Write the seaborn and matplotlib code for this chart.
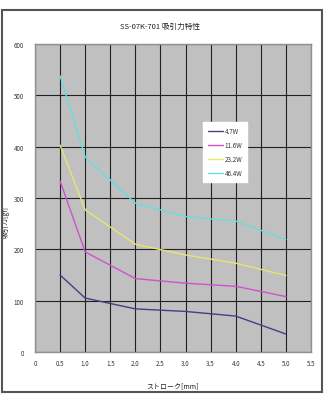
import matplotlib
matplotlib.use("Agg")
import matplotlib.pyplot as plt
import seaborn as sns
import pandas as pd
from matplotlib.patches import Rectangle

stroke = [0.5, 1.0, 2.0, 3.0, 4.0, 5.0]
w4_7 = [150, 105, 84, 79, 70, 35]
w11_6 = [333, 195, 143, 134, 128, 108]
w23_2 = [403, 277, 210, 189, 173, 149]
w46_4 = [538, 380, 290, 264, 255, 219]
series_names = ["4.7W", "11.6W", "23.2W", "46.4W"]
colors = ["#404088", "#d050d0", "#e6e670", "#66dede"]
x_ticks = [0, 0.5, 1.0, 1.5, 2.0, 2.5, 3.0, 3.5, 4.0, 4.5, 5.0, 5.5]
x_tick_labels = ["0", "0.5", "1.0", "1.5", "2.0", "2.5", "3.0", "3.5", "4.0", "4.5", "5.0", "5.5"]
y_ticks = [0, 100, 200, 300, 400, 500, 600]
title = "SS-07K-701 吸引力特性"
xlabel = "ストローク[mm]"
ylabel = "吸引力[gf]"

rows = []
for name, vals in zip(series_names, [w4_7, w11_6, w23_2, w46_4]):
    for x, v in zip(stroke, vals):
        rows.append({"stroke": x, "force": v, "series": name})
df = pd.DataFrame(rows)

sns.set_style("white")
plt.rcParams["font.family"] = ["Noto Sans CJK JP", "DejaVu Sans"]

fig = plt.figure(figsize=(3.24, 4.06), dpi=100)
fig.patch.set_facecolor("white")
fig.patches.append(Rectangle((1.5/324, 1 - 393/406), 320/324, 382/406,
                             transform=fig.transFigure, fill=False,
                             edgecolor="#555555", linewidth=1.5))

ax = fig.add_axes([35/324, 1 - 353/406, 276/324, 308/406])
ax.set_facecolor("#c0c0c0")

sns.lineplot(data=df, x="stroke", y="force", hue="series",
             hue_order=series_names, palette=colors, linewidth=1.0,
             ax=ax, legend=True)

ax.set_xlim(0, 5.5)
ax.set_ylim(0, 600)
ax.set_xticks(x_ticks)
ax.set_xticklabels(x_tick_labels)
ax.set_yticks(y_ticks)
ax.grid(True, color="#202020", linewidth=0.8)
ax.set_axisbelow(True)
for s in ax.spines.values():
    s.set_color("#909090")
    s.set_linewidth(1.0)
ax.tick_params(axis="both", length=0, labelsize=4.5, colors="#333333")
ax.tick_params(axis="y", pad=8)
ax.tick_params(axis="x", pad=5)

ax.set_xlabel(xlabel, fontsize=5, labelpad=10, color="#222222")
ax.set_ylabel(ylabel, fontsize=5, color="#222222")
ax.yaxis.set_label_coords((10 - 35) / 276, (353 - 222) / 308)
fig.text(160/324, 1 - 27/406, title, fontsize=5.5, ha="center", va="center", color="#222222")

leg = ax.legend(loc="upper left", bbox_to_anchor=((203-35)/276, (353-123)/308),
                frameon=True, fancybox=False, framealpha=1, edgecolor="white",
                facecolor="white", fontsize=4.5, handlelength=2.5,
                labelspacing=1.0, borderpad=0.75, handletextpad=0.2,
                borderaxespad=0)
for t in leg.get_texts():
    t.set_fontstyle("italic")
    t.set_color("#333333")

fig.savefig("out.png", dpi=100)
